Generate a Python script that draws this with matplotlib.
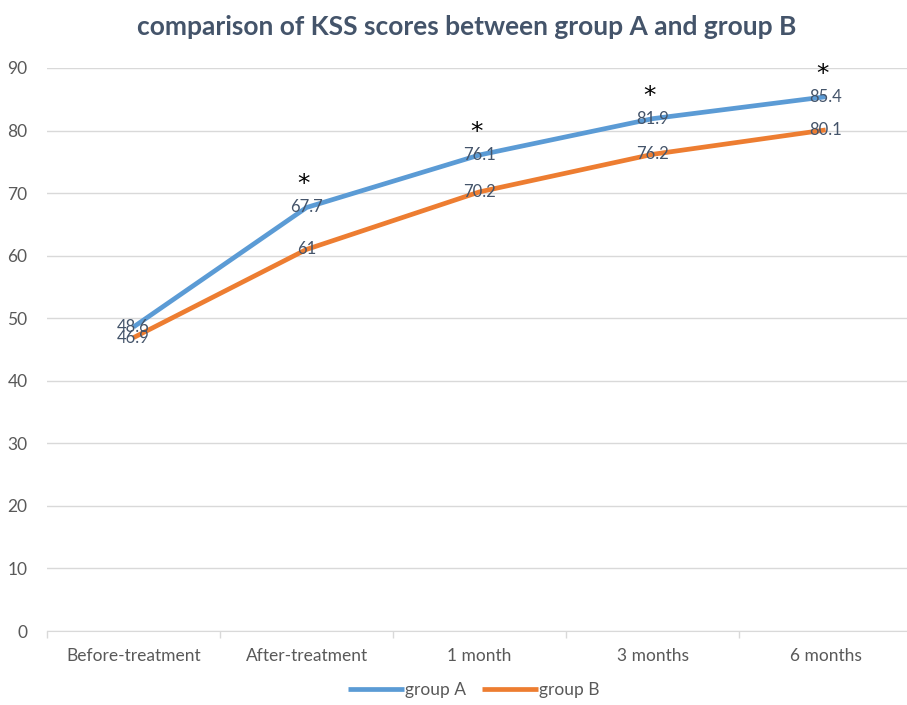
import matplotlib.pyplot as plt
from matplotlib.ticker import FixedLocator

plt.rcParams['font.family'] = ['Lato', 'DejaVu Sans']

periods = ["Before-treatment", "After-treatment", "1 month", "3 months", "6 months"]
group_a = [48.6, 67.7, 76.1, 81.9, 85.4]
group_b = [46.9, 61, 70.2, 76.2, 80.1]
# periods where group A differs significantly from group B
significant = [False, True, True, True, True]

blue = "#5B9BD5"
orange = "#ED7D31"
text_col = "#44546A"
tick_col = "#595959"

fig = plt.figure(figsize=(9.07, 7.05), dpi=100)
ax = fig.add_axes([47/907, 74/705, 1 - 47/907, 563/705])

x = list(range(len(periods)))
ax.plot(x, group_a, color=blue, lw=3.4, label="group A", solid_capstyle="butt", zorder=3)
ax.plot(x, group_b, color=orange, lw=3.4, label="group B", solid_capstyle="butt", zorder=3)

for xi, v in zip(x, group_a):
    ax.text(xi, v, f"{v:g}", ha="center", va="center", fontsize=12, color=text_col, zorder=4)
for xi, v in zip(x, group_b):
    ax.text(xi, v, f"{v:g}", ha="center", va="center", fontsize=12, color=text_col, zorder=4)

# asterisks above group A
for xi, v, s in zip(x, group_a, significant):
    if s:
        ax.text(xi - 0.02, v + 3.7, "*", ha="center", va="center", fontsize=18,
                color="black", family="DejaVu Sans")

ax.set_xlim(-0.5, 4.47)
ax.set_ylim(0, 90)
ax.set_yticks(range(0, 91, 10))
ax.set_xticks(x)
ax.set_xticklabels(periods)
ax.xaxis.set_minor_locator(FixedLocator([i - 0.5 for i in range(len(periods) + 1)]))
ax.tick_params(axis="x", which="major", length=0, pad=12, labelsize=12.5, labelcolor=tick_col)
ax.tick_params(axis="x", which="minor", length=5, color="#D9D9D9", width=1)
ax.tick_params(axis="y", length=0, pad=14, labelsize=12.5, labelcolor=tick_col)
ax.grid(axis="y", color="#D9D9D9", lw=1)
ax.set_axisbelow(True)
for side in ["left", "right", "top"]:
    ax.spines[side].set_visible(False)
ax.spines["bottom"].set_color("#D9D9D9")

fig.text(467/907, 1 - 27/705, "comparison of KSS scores between group A and group B",
         ha="center", va="center", fontsize=19, fontweight="bold", color=text_col)

fig.legend(loc="center", bbox_to_anchor=(474/907, 1 - 690/705), ncol=2, frameon=False,
           fontsize=12.5, handlelength=3.2, handletextpad=0.1, columnspacing=0.9,
           labelcolor=tick_col)

fig.savefig("out.png", dpi=100)
